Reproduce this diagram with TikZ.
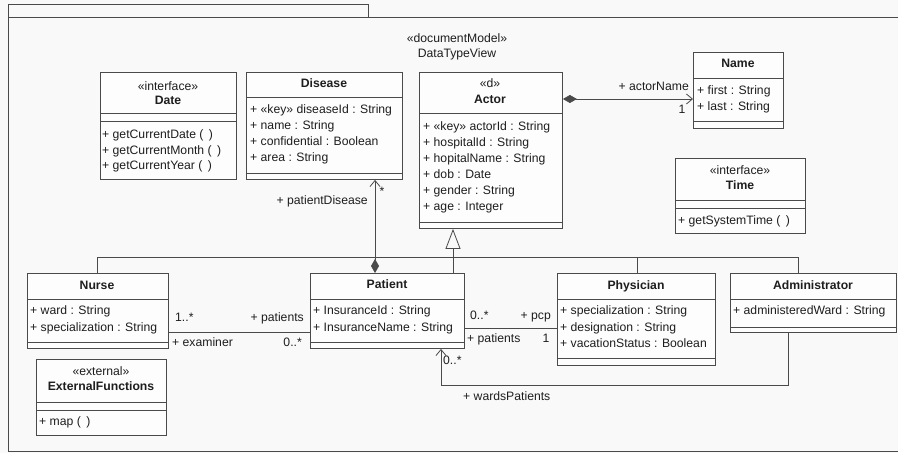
\documentclass[tikz,border=0pt]{standalone}
\usepackage{fontspec}
\setmainfont{Liberation Sans}
\usetikzlibrary{arrows.meta}
\definecolor{bg}{HTML}{F9F9F9}
\definecolor{ln}{HTML}{4A4A4A}
\definecolor{tx}{HTML}{1E1E1E}
\newcommand\prs{(\ \,)}
\begin{document}
\begin{tikzpicture}[x=1pt,y=-1pt, font=\fontsize{12.2}{14}\selectfont,
  box/.style={draw=ln, line width=0.9pt, fill=white!60!bg, inner sep=0pt, anchor=north west},
  sep/.style={draw=ln, line width=0.9pt},
  txt/.style={inner sep=0pt, anchor=mid west, text=tx},
  rtxt/.style={inner sep=0pt, anchor=mid east, text=tx},
  ctxt/.style={inner sep=0pt, anchor=mid, text=tx},
  hd/.style={inner sep=0pt, anchor=mid, text=tx, font=\fontsize{12.2}{14}\selectfont\bfseries},
  conn/.style={draw=ln, line width=0.8pt},
  barb/.tip={Straight Barb[length=6pt,width=10pt,line width=0.8pt]},
  dia/.tip={Diamond[fill=ln,length=14pt,width=8pt]},
]
\useasboundingbox (0,0) rectangle (898,453);
\fill[bg] (0,0) rectangle (898,453);
% package frame
\draw[draw=ln, line width=0.9pt] (8,4) rectangle (368,17);
\draw[draw=ln, line width=0.9pt] (8,17) rectangle (910,451);
\node[ctxt] (st) at (457,40) {«documentModel»};
\node[ctxt] (title) at (457,55) {DataTypeView};

% Date
\node[box, minimum width=136, minimum height=107] (date) at (100,72) {};
\draw[sep] (100,113) -- (236,113) (100,121) -- (236,121);
\node[ctxt] (dateS) at (168,88) {«interface»};
\node[hd] (dateN) at (168,102) {Date};
\node[txt] (date1) at (102,136) {+ getCurrentDate \prs};
\node[txt] (date2) at (102,152) {+ getCurrentMonth \prs};
\node[txt] (date3) at (102,167) {+ getCurrentYear \prs};

% Disease
\node[box, minimum width=156, minimum height=107] (disease) at (246,72) {};
\draw[sep] (246,97) -- (402,97) (246,173) -- (402,173);
\node[hd] (diseaseN) at (324,85) {Disease};
\node[txt] (dis1) at (250,111) {+ «key» diseaseId : String};
\node[txt] (dis2) at (250,127) {+ name : String};
\node[txt] (dis3) at (250,143) {+ confidential : Boolean};
\node[txt] (dis4) at (250,159) {+ area : String};

% Actor
\node[box, minimum width=143, minimum height=156] (actor) at (419,72) {};
\draw[sep] (419,113) -- (562,113) (419,222) -- (562,222);
\node[ctxt] (actorS) at (490,85) {«d»};
\node[hd] (actorN) at (490,101) {Actor};
\node[txt] (act1) at (423,128) {+ «key» actorId : String};
\node[txt] (act2) at (423,144) {+ hospitalId : String};
\node[txt] (act3) at (423,160) {+ hopitalName : String};
\node[txt] (act4) at (423,176) {+ dob : Date};
\node[txt] (act5) at (423,192) {+ gender : String};
\node[txt] (act6) at (423,208) {+ age : Integer};

% Name
\node[box, minimum width=90, minimum height=76] (name) at (693,52) {};
\draw[sep] (693,78) -- (783,78) (693,121) -- (783,121);
\node[hd] (nameN) at (738,65) {Name};
\node[txt] (nam1) at (697,92) {+ first : String};
\node[txt] (nam2) at (697,108) {+ last : String};

% Time
\node[box, minimum width=130, minimum height=75] (time) at (675,158) {};
\draw[sep] (675,200) -- (805,200) (675,208) -- (805,208);
\node[ctxt] (timeS) at (740,172) {«interface»};
\node[hd] (timeN) at (740,187) {Time};
\node[txt] (tim1) at (678,222) {+ getSystemTime \prs};

% Nurse
\node[box, minimum width=141, minimum height=75] (nurse) at (27,273) {};
\draw[sep] (27,299) -- (168,299) (27,342) -- (168,342);
\node[hd] (nurseN) at (97,287) {Nurse};
\node[txt] (nur1) at (30,312) {+ ward : String};
\node[txt] (nur2) at (30,329) {+ specialization : String};

% Patient
\node[box, minimum width=154, minimum height=75] (patient) at (310,273) {};
\draw[sep] (310,299) -- (464,299) (310,342) -- (464,342);
\node[hd] (patientN) at (387,286) {Patient};
\node[txt] (pat1) at (313,312) {+ InsuranceId : String};
\node[txt] (pat2) at (313,329) {+ InsuranceName : String};

% Physician
\node[box, minimum width=158, minimum height=92] (physician) at (557,273) {};
\draw[sep] (557,299) -- (715,299) (557,358) -- (715,358);
\node[hd] (physicianN) at (636,287) {Physician};
\node[txt] (phy1) at (560,312) {+ specialization : String};
\node[txt] (phy2) at (560,329) {+ designation : String};
\node[txt] (phy3) at (560,345) {+ vacationStatus : Boolean};

% Administrator
\node[box, minimum width=166, minimum height=59] (admin) at (730,273) {};
\draw[sep] (730,299) -- (896,299) (730,327) -- (896,327);
\node[hd] (adminN) at (813,287) {Administrator};
\node[txt] (adm1) at (733,312) {+ administeredWard : String};

% ExternalFunctions
\node[box, minimum width=130, minimum height=76] (ext) at (36,359) {};
\draw[sep] (36,402) -- (166,402) (36,410) -- (166,410);
\node[ctxt] (extS) at (101,373) {«external»};
\node[hd] (extN) at (101,388) {ExternalFunctions};
\node[txt] (ext1) at (39,423) {+ map \prs};

% Actor -- Name composition
\draw[conn, dia-barb] (actor.east |- 0,99) -- (name.west |- 0,99);
\node[rtxt] (lActorName) at (689,88) {+ actorName};
\node[ctxt] (lOne) at (682,111) {1};

% Patient -- Disease composition
\draw[conn, dia-barb] (patient.north -| 375,0) -- (disease.south -| 375,0);
\node[rtxt] (lPD) at (368,202) {+ patientDisease};
\node[ctxt] (lPDs) at (382,193) {*};

% Generalization
\coordinate (gj) at (453,257);
\draw[conn, -{Triangle[open,length=20pt,width=15pt,line width=0.8pt]}] (gj) -- (actor.south -| gj);
\draw[conn] (nurse.north -| 97,0) |- (gj);
\draw[conn] (patient.north -| gj) -- (gj);
\draw[conn] (admin.north -| 798,0) |- (gj);
\draw[conn] (physician.north -| 637,0) -- (637,257);

% Nurse -- Patient
\draw[conn] (nurse.east |- 0,332) -- (patient.west |- 0,332);
\node[txt] (lN1) at (175,319) {1..*};
\node[rtxt] (lN2) at (304,319) {+ patients};
\node[txt] (lN3) at (172,344) {+ examiner};
\node[rtxt] (lN4) at (302,344) {0..*};

% Patient -- Physician
\draw[conn] (patient.east |- 0,328) -- (physician.west |- 0,328);
\node[txt] (lP1) at (470,317) {0..*};
\node[rtxt] (lP2) at (551,317) {+ pcp};
\node[txt] (lP3) at (467,340) {+ patients};
\node[ctxt] (lP4) at (546,340) {1};

% Administrator -- Patient
\coordinate (wp) at (441,385);
\draw[conn, -barb] (admin.south -| 788,0) |- (wp) -- (patient.south -| wp);
\node[txt] (lW1) at (443,362) {0..*};
\node[txt] (lW2) at (463,398) {+ wardsPatients};
\end{tikzpicture}
\end{document}
